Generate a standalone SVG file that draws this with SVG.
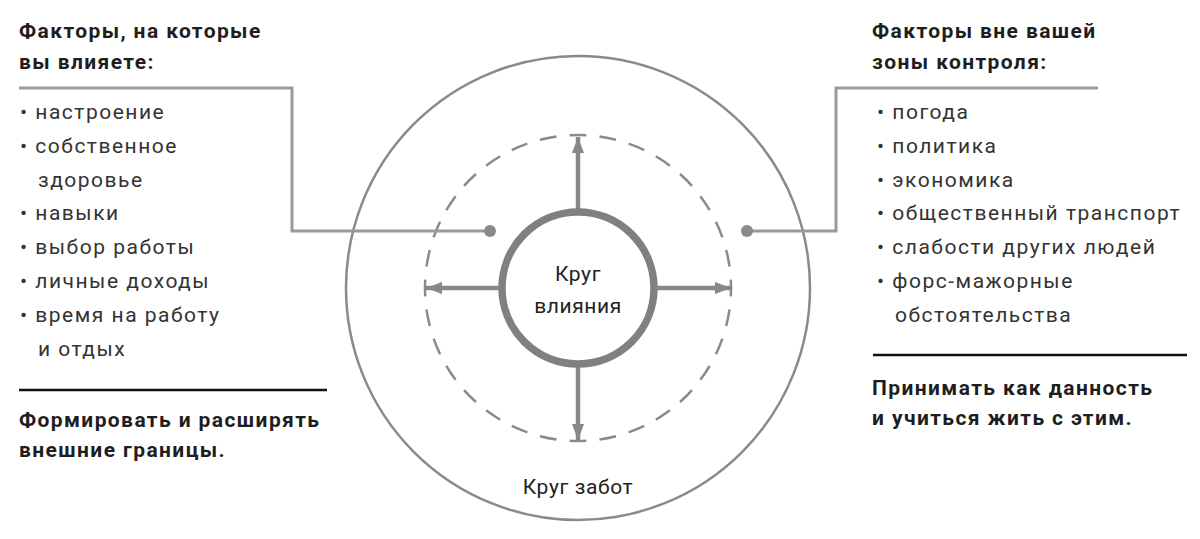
<svg xmlns="http://www.w3.org/2000/svg" width="1200" height="539" viewBox="0 0 1200 539">
<defs>
<style>
.h{font-family:Roboto,"Liberation Sans",sans-serif;font-weight:bold;font-size:21px;fill:#1e1e1e;letter-spacing:1.4px}
.t{font-family:Roboto,"Liberation Sans",sans-serif;font-size:21px;fill:#333;letter-spacing:1.5px}
.c{font-family:Roboto,"Liberation Sans",sans-serif;font-size:21px;fill:#222;text-anchor:middle;letter-spacing:0.6px}
.conn{fill:none;stroke:#9a9a9a;stroke-width:3}
.arr{stroke:#888;stroke-width:4.5;fill:none}
.rule{stroke:#111;stroke-width:2.5}
</style>
<marker id="ah" viewBox="0 0 16 12" refX="16" refY="6" markerWidth="16" markerHeight="12" markerUnits="userSpaceOnUse" orient="auto">
<path d="M0,0 L16,6 L0,12 Z" fill="#888"/>
</marker>
</defs>
<rect width="1200" height="539" fill="#fff"/>

<g id="outer-circle">
<circle cx="578" cy="288" r="232" fill="none" stroke="#8a8a8a" stroke-width="2.5"/>
<text class="c" x="578" y="494">Круг забот</text>
</g>

<g id="dashed-circle">
<circle cx="578" cy="288" r="153" fill="none" stroke="#8a8a8a" stroke-width="2.5" pathLength="320" stroke-dasharray="5.6 4.4" stroke-dashoffset="2.8"/>
</g>

<g id="connectors">
<polyline class="conn" points="19,88 292,88 292,231 490,231"/>
<circle cx="490" cy="231" r="6" fill="#8a8a8a"/>
<polyline class="conn" points="1098,88 836,88 836,231 747,231"/>
<circle cx="747" cy="231" r="6" fill="#8a8a8a"/>
<line class="arr" x1="578" y1="210" x2="578" y2="137" marker-end="url(#ah)"/>
<line class="arr" x1="578" y1="366" x2="578" y2="440" marker-end="url(#ah)"/>
<line class="arr" x1="500" y1="288" x2="426" y2="288" marker-end="url(#ah)"/>
<line class="arr" x1="656" y1="288" x2="731" y2="288" marker-end="url(#ah)"/>
</g>

<g id="inner-circle">
<circle cx="578" cy="288" r="76" fill="#fff" stroke="#808080" stroke-width="7.5"/>
<text class="c" x="578" y="281">Круг</text>
<text class="c" x="578" y="313">влияния</text>
</g>

<g id="left-panel">
<text class="h" x="19" y="38">Факторы, на которые</text>
<text class="h" x="19" y="69">вы влияете:</text>
<g class="t">
<text x="20" y="119">• настроение</text>
<text x="20" y="153">• собственное</text>
<text x="38" y="187">здоровье</text>
<text x="20" y="220">• навыки</text>
<text x="20" y="254">• выбор работы</text>
<text x="20" y="288">• личные доходы</text>
<text x="20" y="322">• время на работу</text>
<text x="38" y="356">и отдых</text>
</g>
<line class="rule" x1="19" y1="390" x2="327" y2="390"/>
<text class="h" x="19" y="427">Формировать и расширять</text>
<text class="h" x="19" y="457">внешние границы.</text>
</g>

<g id="right-panel">
<text class="h" x="872" y="38">Факторы вне вашей</text>
<text class="h" x="872" y="69">зоны контроля:</text>
<g class="t">
<text x="877" y="119">• погода</text>
<text x="877" y="153">• политика</text>
<text x="877" y="187">• экономика</text>
<text x="877" y="220">• общественный транспорт</text>
<text x="877" y="254">• слабости других людей</text>
<text x="877" y="288">• форс-мажорные</text>
<text x="895" y="322">обстоятельства</text>
</g>
<line class="rule" x1="873" y1="355" x2="1187" y2="355"/>
<text class="h" x="872" y="395">Принимать как данность</text>
<text class="h" x="872" y="425">и учиться жить с этим.</text>
</g>
</svg>
